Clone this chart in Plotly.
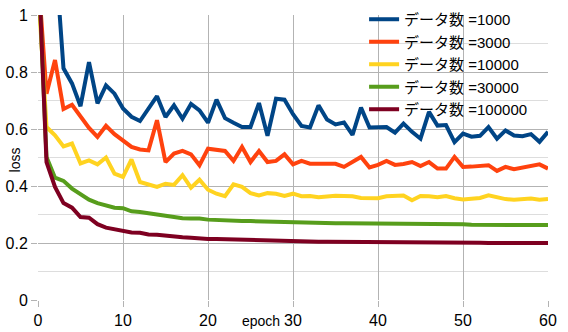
import plotly.graph_objects as go

epochs = list(range(0, 61))

loss_1000 = [2.0, 1.5, 1.23, 0.813, 0.76, 0.68, 0.835, 0.69, 0.753, 0.724,
             0.672, 0.643, 0.628, 0.674, 0.715, 0.642, 0.683, 0.636, 0.688, 0.665,
             0.622, 0.703, 0.638, 0.622, 0.607, 0.607, 0.691, 0.576, 0.706, 0.703,
             0.652, 0.611, 0.605, 0.683, 0.633, 0.616, 0.623, 0.579, 0.675, 0.605,
             0.607, 0.607, 0.587, 0.619, 0.59, 0.566, 0.66, 0.612, 0.614, 0.554,
             0.584, 0.573, 0.576, 0.607, 0.566, 0.595, 0.577, 0.575, 0.582, 0.555,
             0.59]
loss_3000 = [1.15, 0.724, 0.842, 0.67, 0.685, 0.642, 0.604, 0.572, 0.611, 0.582,
             0.56, 0.537, 0.528, 0.525, 0.631, 0.484, 0.514, 0.523, 0.511, 0.473,
             0.531, 0.528, 0.523, 0.488, 0.537, 0.484, 0.523, 0.484, 0.488, 0.511,
             0.476, 0.488, 0.478, 0.478, 0.479, 0.478, 0.467, 0.484, 0.502, 0.465,
             0.474, 0.488, 0.474, 0.477, 0.484, 0.47, 0.484, 0.461, 0.461, 0.502,
             0.467, 0.468, 0.471, 0.473, 0.453, 0.467, 0.459, 0.465, 0.47, 0.476,
             0.461]
loss_10000 = [1.1, 0.607, 0.578, 0.539, 0.549, 0.479, 0.49, 0.476, 0.5, 0.443,
              0.432, 0.493, 0.414, 0.406, 0.397, 0.408, 0.404, 0.438, 0.394, 0.422,
              0.387, 0.373, 0.364, 0.406, 0.397, 0.375, 0.367, 0.375, 0.373, 0.365,
              0.373, 0.364, 0.365, 0.361, 0.364, 0.366, 0.365, 0.364, 0.358, 0.357,
              0.357, 0.364, 0.365, 0.367, 0.35, 0.365, 0.364, 0.361, 0.365, 0.357,
              0.353, 0.354, 0.358, 0.367, 0.361, 0.354, 0.352, 0.354, 0.356, 0.352,
              0.354]
loss_30000 = [1.2, 0.502, 0.429, 0.418, 0.391, 0.373, 0.352, 0.34, 0.331, 0.324,
              0.322, 0.311, 0.309, 0.304, 0.301, 0.296, 0.29, 0.287, 0.286, 0.286,
              0.282, 0.28, 0.28, 0.278, 0.277, 0.277, 0.276, 0.274, 0.274, 0.273,
              0.271, 0.27, 0.27, 0.27, 0.269, 0.269, 0.269, 0.269, 0.268, 0.268,
              0.268, 0.268, 0.268, 0.268, 0.267, 0.267, 0.267, 0.267, 0.267, 0.266,
              0.266, 0.264, 0.264, 0.264, 0.264, 0.264, 0.264, 0.263, 0.263, 0.263,
              0.263]
loss_100000 = [1.22, 0.484, 0.397, 0.34, 0.324, 0.291, 0.289, 0.266, 0.254, 0.249,
               0.245, 0.237, 0.236, 0.23, 0.229, 0.225, 0.222, 0.22, 0.218, 0.215,
               0.214, 0.214, 0.213, 0.212, 0.21, 0.21, 0.209, 0.208, 0.207, 0.207,
               0.206, 0.204, 0.204, 0.204, 0.204, 0.204, 0.204, 0.203, 0.203, 0.203,
               0.203, 0.202, 0.201, 0.201, 0.201, 0.201, 0.201, 0.201, 0.201, 0.201,
               0.201, 0.201, 0.201, 0.2, 0.2, 0.2, 0.2, 0.2, 0.2, 0.2,
               0.2]

series_names = ["データ数 =1000", "データ数 =3000", "データ数 =10000",
                "データ数 =30000", "データ数 =100000"]
series_values = [loss_1000, loss_3000, loss_10000, loss_30000, loss_100000]
colors = ["#004586", "#ff420e", "#ffd320", "#579d1c", "#7e0021"]

x_ticks = [0, 10, 20, 30, 40, 50, 60]
y_ticks = [0, 0.2, 0.4, 0.6, 0.8, 1]
y_tick_labels = ["0", "0.2", "0.4", "0.6", "0.8", "1"]

FONT = "Liberation Sans, Noto Sans CJK JP, sans-serif"

fig = go.Figure()
for name, vals, col in zip(series_names, series_values, colors):
    fig.add_trace(go.Scatter(x=epochs, y=vals, mode="lines", name=name,
                             line=dict(color=col, width=4)))

fig.update_layout(
    width=568, height=332,
    margin=dict(l=38, r=20, t=15, b=32, autoexpand=False),
    paper_bgcolor="white", plot_bgcolor="white",
    font=dict(family=FONT, size=16, color="black"),
    showlegend=True,
    legend=dict(x=0.641, y=0.991, xref="container", yref="container",
                xanchor="left", yanchor="top",
                bgcolor="rgba(0,0,0,0)", font=dict(size=15, family=FONT),
                tracegroupgap=0, itemwidth=30),
)
fig.update_xaxes(range=[0, 60], tickvals=x_ticks, showgrid=True,
                 gridcolor="#b3b3b3", gridwidth=1, zeroline=False,
                 ticks="outside", ticklen=6, tickcolor="#b3b3b3",
                 showline=False, tickfont=dict(size=16), automargin=False)
fig.update_yaxes(range=[0, 1], tickvals=y_ticks, ticktext=y_tick_labels,
                 showgrid=True, gridcolor="#b3b3b3", gridwidth=1,
                 zeroline=False, ticks="outside", ticklen=6, tickcolor="#b3b3b3",
                 showline=False, tickfont=dict(size=16), automargin=False,
                 minor=dict(dtick=0.1, showgrid=True, gridcolor="#dddddd",
                            gridwidth=1, ticks=""))

fig.add_annotation(text="epoch", x=0.437, y=-0.073, xref="paper", yref="paper",
                   showarrow=False, font=dict(size=14, family=FONT),
                   xanchor="center", yanchor="middle")
fig.add_annotation(text="loss", x=-0.045, y=0.49, xref="paper", yref="paper",
                   showarrow=False, textangle=-90,
                   font=dict(size=14, family=FONT),
                   xanchor="center", yanchor="middle")

fig.write_html("out.html")
